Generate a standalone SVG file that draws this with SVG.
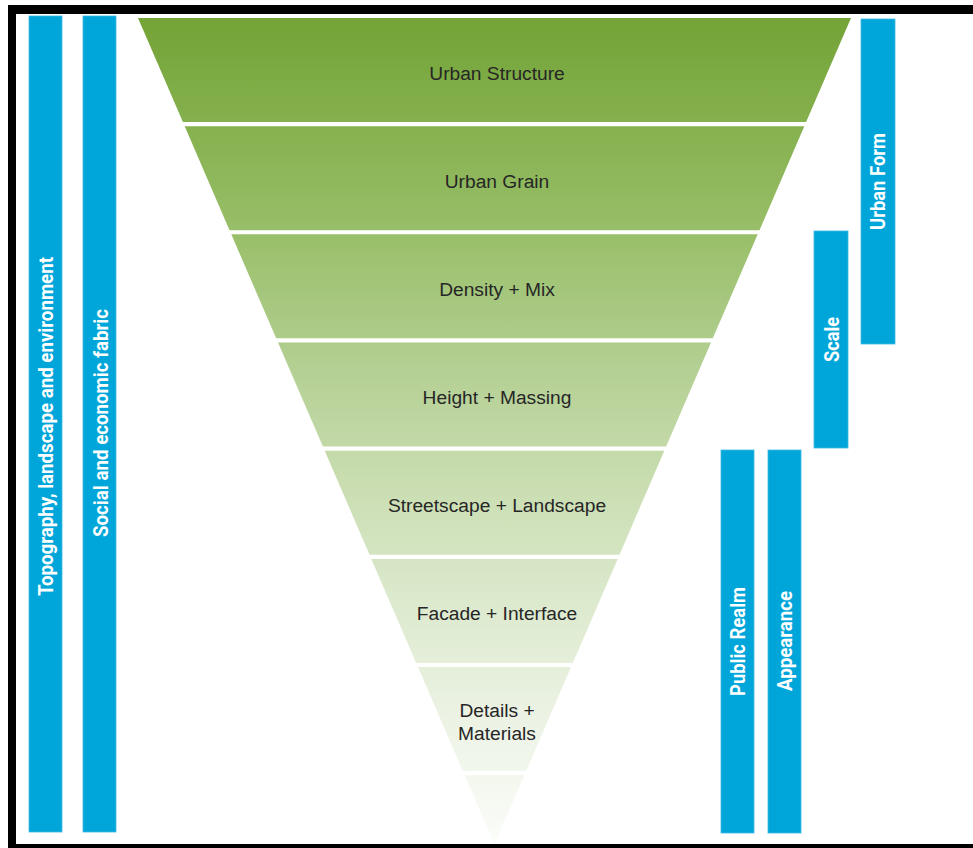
<svg xmlns="http://www.w3.org/2000/svg" width="973" height="848" viewBox="0 0 973 848">
<style>
.band{fill:url(#g)}
.lbl{font-family:"Liberation Sans",Arial,sans-serif;font-size:19.2px;fill:#262626;text-anchor:middle}
.bar{fill:#00a6d9;stroke:#3fb9e3;stroke-width:0.8}
.vt{font-family:Roboto,"Liberation Sans",sans-serif;font-weight:bold;font-size:20px;fill:#ffffff;text-anchor:middle}
.frame{fill:#000000}
</style>
<defs>
<linearGradient id="g" gradientUnits="userSpaceOnUse" x1="0" y1="18" x2="0" y2="844">
<stop offset="0" stop-color="#74a337"/>
<stop offset="0.14" stop-color="#86b250"/>
<stop offset="0.28" stop-color="#9cc16e"/>
<stop offset="0.42" stop-color="#b3cf92"/>
<stop offset="0.56" stop-color="#c9ddb0"/>
<stop offset="0.70" stop-color="#dbe9cc"/>
<stop offset="0.84" stop-color="#ebf2e3"/>
<stop offset="1" stop-color="#fbfdf9"/>
</linearGradient>
</defs>
<rect width="973" height="848" fill="#ffffff"/>
<g id="frame">
<rect class="frame" x="8" y="5" width="965" height="9"/>
<rect class="frame" x="8" y="5" width="8" height="843"/>
<rect class="frame" x="8" y="844" width="965" height="4"/>
</g>
<g id="connectors"/>
<g id="band-urban-structure">
<polygon class="band" points="138,18 851,18 806.1,122 182.9,122"/>
<text class="lbl" x="497" y="80">Urban Structure</text>
</g>
<g id="band-urban-grain">
<polygon class="band" points="184.7,126.2 804.3,126.2 759.5,230.2 229.5,230.2"/>
<text class="lbl" x="497" y="188">Urban Grain</text>
</g>
<g id="band-density-mix">
<polygon class="band" points="231.3,234.3 757.7,234.3 712.8,338.3 276.2,338.3"/>
<text class="lbl" x="497" y="296">Density + Mix</text>
</g>
<g id="band-height-massing">
<polygon class="band" points="278,342.5 711,342.5 666.1,446.5 322.9,446.5"/>
<text class="lbl" x="497" y="404">Height + Massing</text>
</g>
<g id="band-streetscape-landscape">
<polygon class="band" points="324.7,450.7 664.3,450.7 619.5,554.7 369.5,554.7"/>
<text class="lbl" x="497" y="512">Streetscape + Landscape</text>
</g>
<g id="band-facade-interface">
<polygon class="band" points="371.3,558.9 617.7,558.9 572.8,662.9 416.2,662.9"/>
<text class="lbl" x="497" y="620">Facade + Interface</text>
</g>
<g id="band-details-materials">
<polygon class="band" points="418,667 571,667 526.2,771 462.8,771"/>
<text class="lbl" x="497" y="717">Details +</text>
<text class="lbl" x="497" y="740">Materials</text>
</g>
<g id="band-tip">
<polygon class="band" points="464.7,775.2 524.3,775.2 494.5,844"/>
</g>
<g id="bar-topography">
<rect class="bar" x="29" y="16" width="33" height="816"/>
<text class="vt" transform="translate(53,426.5) rotate(-90)" textLength="339" lengthAdjust="spacingAndGlyphs">Topography, landscape and environment</text>
</g>
<g id="bar-social">
<rect class="bar" x="83" y="16" width="33" height="816"/>
<text class="vt" transform="translate(107.5,423) rotate(-90)" textLength="228" lengthAdjust="spacingAndGlyphs">Social and economic fabric</text>
</g>
<g id="bar-urban-form">
<rect class="bar" x="861" y="19" width="34" height="325"/>
<text class="vt" transform="translate(884.5,181.5) rotate(-90)" textLength="97" lengthAdjust="spacingAndGlyphs">Urban Form</text>
</g>
<g id="bar-scale">
<rect class="bar" x="814" y="231" width="34" height="217"/>
<text class="vt" transform="translate(838.5,339.5) rotate(-90)" textLength="45" lengthAdjust="spacingAndGlyphs">Scale</text>
</g>
<g id="bar-public-realm">
<rect class="bar" x="721" y="450" width="33" height="383"/>
<text class="vt" transform="translate(745,641.5) rotate(-90)" textLength="109" lengthAdjust="spacingAndGlyphs">Public Realm</text>
</g>
<g id="bar-appearance">
<rect class="bar" x="768" y="450" width="33" height="383"/>
<text class="vt" transform="translate(792,641) rotate(-90)" textLength="100" lengthAdjust="spacingAndGlyphs">Appearance</text>
</g>
</svg>
